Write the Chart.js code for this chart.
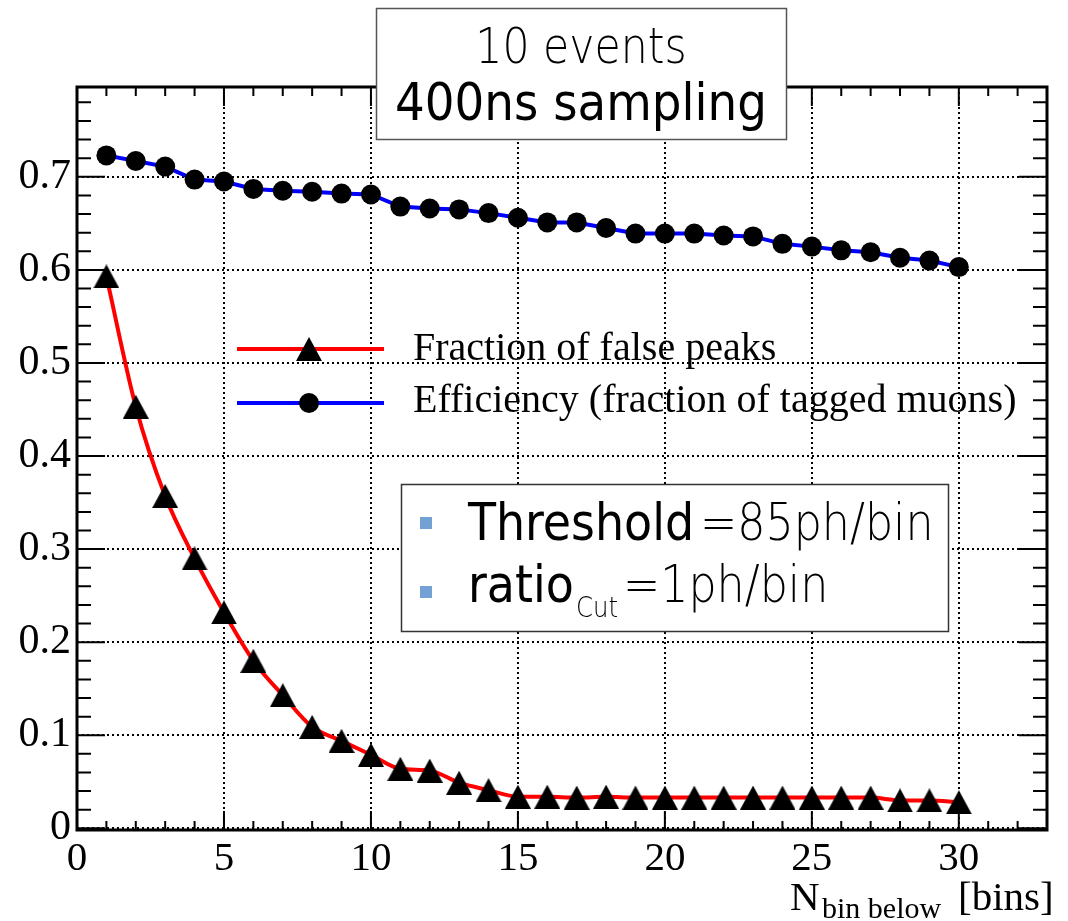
<!DOCTYPE html>
<html>
<head>
<meta charset="utf-8">
<script src="https://cdn.jsdelivr.net/npm/chart.js@4.4.1/dist/chart.umd.min.js"></script>
<style>
  html, body { margin: 0; padding: 0; background: #fff; }
  canvas { display: block; }
</style>
</head>
<body>
<canvas id="grafico" width="1068" height="921"></canvas>
<script>
// datos
const nBins = [1, 2, 3, 4, 5, 6, 7, 8, 9, 10, 11, 12, 13, 14, 15, 16, 17, 18, 19, 20, 21, 22, 23, 24, 25, 26, 27, 28, 29, 30];
const falsePeaks = [0.593, 0.453, 0.357, 0.290, 0.232, 0.180, 0.143, 0.109, 0.094, 0.079, 0.064, 0.062, 0.049, 0.041, 0.034,
                    0.034, 0.033, 0.034, 0.033, 0.033, 0.033, 0.033, 0.033, 0.033, 0.033, 0.033, 0.033, 0.030, 0.030, 0.028];
const efficiency = [0.723, 0.717, 0.711, 0.697, 0.695, 0.687, 0.685, 0.684, 0.682, 0.681, 0.668, 0.666, 0.665, 0.661, 0.656,
                    0.651, 0.651, 0.645, 0.639, 0.639, 0.639, 0.637, 0.636, 0.628, 0.625, 0.621, 0.619, 0.613, 0.610, 0.603];
const xTickValues = [0, 5, 10, 15, 20, 25, 30];
const yTickValues = [0, 0.1, 0.2, 0.3, 0.4, 0.5, 0.6, 0.7];

const serif = '"Liberation Serif", "Times New Roman", serif';
const sansCond = '"DejaVu Sans Condensed", "DejaVu Sans", sans-serif';
const sansLight = '"DejaVu Sans ExtraLight", "DejaVu Sans Light", "DejaVu Sans Condensed", sans-serif';

// marcador triangulo estilo ROOT (centrado a media altura)
const triangulo = document.createElement('canvas');
triangulo.width = 26;
triangulo.height = 24;
{
  const t = triangulo.getContext('2d');
  t.fillStyle = '#000';
  t.beginPath();
  t.moveTo(13, 0);
  t.lineTo(26, 24);
  t.lineTo(0, 24);
  t.closePath();
  t.fill();
}

// texto fino estrechado en horizontal (la fuente ligera no tiene version condensada)
function textoFino(ctx, txt, x, y, size, align) {
  const k = 0.87;
  ctx.save();
  ctx.font = '200 ' + size + 'px ' + sansLight;
  const w = ctx.measureText(txt).width * k;
  const x0 = align === 'center' ? x - w / 2 : x;
  ctx.translate(x0, y);
  ctx.scale(k, 1);
  ctx.textAlign = 'left';
  ctx.fillText(txt, 0, 0);
  ctx.restore();
  return w;
}

// marco, ticks interiores, leyendas y cajas de texto
const decorado = {
  id: 'decorado',
  afterDraw(chart) {
    const { ctx, chartArea: a, scales: { x, y } } = chart;
    ctx.save();

    // ticks hacia dentro
    ctx.strokeStyle = '#000';
    ctx.lineWidth = 2;
    ctx.beginPath();
    for (let v = 0; v <= 33; v++) {
      const px = x.getPixelForValue(v);
      const len = v % 5 === 0 ? 19 : 9;
      ctx.moveTo(px, a.bottom); ctx.lineTo(px, a.bottom - len);
      ctx.moveTo(px, a.top); ctx.lineTo(px, a.top + len);
    }
    for (let k = 0; k <= 39; k++) {
      const py = y.getPixelForValue(k * 0.02);
      const len = k % 5 === 0 ? 28 : 14;
      ctx.moveTo(a.left, py); ctx.lineTo(a.left + len, py);
      ctx.moveTo(a.right, py); ctx.lineTo(a.right - len, py);
    }
    ctx.stroke();

    // marco
    ctx.lineWidth = 3;
    ctx.strokeRect(a.left, a.top, a.right - a.left, a.bottom - a.top);

    // leyenda de las series
    ctx.lineWidth = 4;
    ctx.strokeStyle = '#ff0000';
    ctx.beginPath(); ctx.moveTo(237, 349); ctx.lineTo(384, 349); ctx.stroke();
    ctx.drawImage(triangulo, 309 - 13, 349 - 12);
    ctx.strokeStyle = '#0000ff';
    ctx.beginPath(); ctx.moveTo(237, 403); ctx.lineTo(384, 403); ctx.stroke();
    ctx.fillStyle = '#000';
    ctx.beginPath(); ctx.arc(309, 403, 10, 0, Math.PI * 2); ctx.fill();
    ctx.font = '40px ' + serif;
    ctx.textBaseline = 'alphabetic';
    ctx.textAlign = 'left';
    ctx.fillText('Fraction of false peaks', 413, 360);
    ctx.fillText('Efficiency (fraction of tagged muons)', 413, 412);

    // caja de parametros
    ctx.fillStyle = '#fff';
    ctx.fillRect(401.5, 484.5, 547, 147);
    ctx.strokeStyle = '#333';
    ctx.lineWidth = 1.5;
    ctx.strokeRect(401.5, 484.5, 547, 147);
    ctx.fillStyle = '#74a1d4';
    ctx.fillRect(420, 517, 12, 12);
    ctx.fillRect(420, 586, 12, 12);
    ctx.fillStyle = '#000';
    ctx.font = '51px ' + sansCond;
    ctx.fillText('Threshold', 468, 540);
    textoFino(ctx, '=85ph/bin', 468 + ctx.measureText('Threshold').width + 6, 540, 51);
    ctx.font = '51px ' + sansCond;
    ctx.fillText('ratio', 468, 602);
    const wCut = textoFino(ctx, 'Cut', 576, 617, 28);
    textoFino(ctx, '=1ph/bin', 576 + wCut + 5, 602, 51);

    // caja del titulo
    ctx.fillStyle = '#fff';
    ctx.fillRect(376.5, 8.5, 410, 131);
    ctx.strokeStyle = '#555';
    ctx.strokeRect(376.5, 8.5, 410, 131);
    ctx.fillStyle = '#000';
    textoFino(ctx, '10 events', 581, 63, 49, 'center');
    ctx.textAlign = 'center';
    ctx.font = '52px ' + sansCond;
    ctx.fillText('400ns sampling', 581, 120);

    // titulo del eje x
    ctx.textAlign = 'left';
    ctx.font = '41px ' + serif;
    ctx.fillText('N', 790, 910);
    ctx.font = '30px ' + serif;
    ctx.fillText('bin below', 822, 918);
    ctx.font = '41px ' + serif;
    ctx.fillText('[bins]', 958, 910);

    ctx.restore();
  }
};

const ctx = document.getElementById('grafico').getContext('2d');

const grafico = new Chart(ctx, {
  type: 'line',
  data: {
    datasets: [
      {
        label: 'Fraction of false peaks',
        data: nBins.map((n, i) => ({ x: n, y: falsePeaks[i] })),
        borderColor: '#ff0000',
        borderWidth: 4,
        cubicInterpolationMode: 'monotone',
        pointStyle: triangulo,
        pointRadius: 12,
        pointBorderWidth: 0
      },
      {
        label: 'Efficiency (fraction of tagged muons)',
        data: nBins.map((n, i) => ({ x: n, y: efficiency[i] })),
        borderColor: '#0000ff',
        borderWidth: 4,
        tension: 0,
        pointStyle: 'circle',
        pointRadius: 10,
        pointBackgroundColor: '#000',
        pointBorderWidth: 0
      }
    ]
  },
  options: {
    responsive: false,
    animation: false,
    devicePixelRatio: 1,
    layout: { padding: { top: 87, right: 21, left: 0, bottom: 0 } },
    plugins: {
      legend: { display: false },
      tooltip: { enabled: false }
    },
    scales: {
      x: {
        type: 'linear',
        min: 0,
        max: 33,
        afterBuildTicks: s => { s.ticks = xTickValues.map(v => ({ value: v })); },
        afterFit: s => { s.height = 91; },
        grid: { color: '#000', lineWidth: 2, drawTicks: false },
        border: { display: false, dash: [2, 3] },
        ticks: {
          color: '#000',
          padding: 5,
          maxRotation: 0,
          autoSkip: false,
          font: { family: serif, size: 41 }
        }
      },
      y: {
        type: 'linear',
        min: -0.0018,
        max: 0.7965,
        afterBuildTicks: s => { s.ticks = yTickValues.map(v => ({ value: v })); },
        afterFit: s => { s.width = 77; },
        grid: { color: '#000', lineWidth: 2, drawTicks: false },
        border: { display: false, dash: [2, 3] },
        ticks: {
          color: '#000',
          padding: 6,
          autoSkip: false,
          font: { family: serif, size: 42 },
          callback: v => String(v)
        }
      }
    }
  },
  plugins: [decorado]
});
</script>
</body>
</html>
